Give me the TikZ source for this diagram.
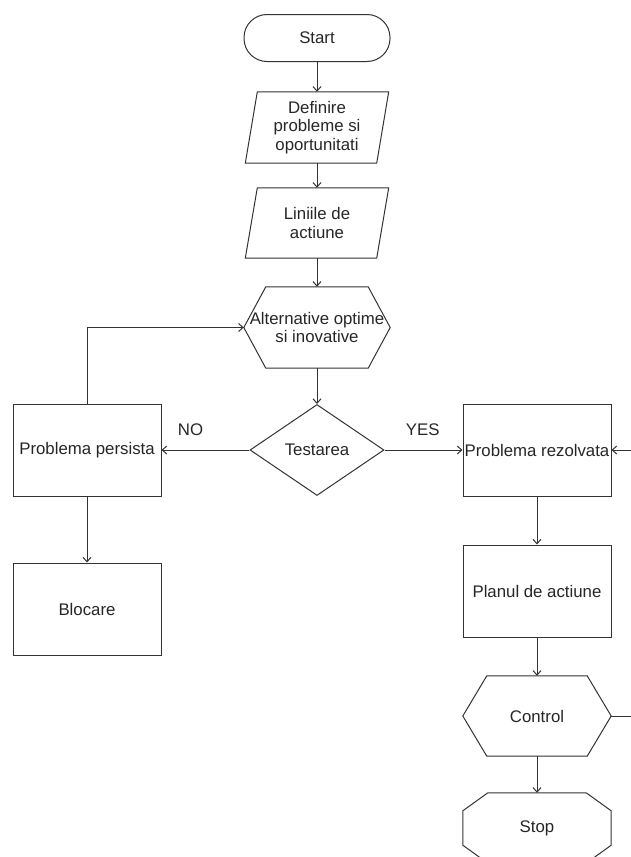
\documentclass[tikz,border=0pt]{standalone}
\usepackage{fontspec}
\setmainfont{Liberation Sans}
\usetikzlibrary{arrows.meta,shapes.geometric}

\begin{document}
\begin{tikzpicture}[x=1pt,y=-1pt,
  line/.style={draw=black!80,line width=1pt},
  flow/.style={line,-{Straight Barb[length=4.5pt,width=8pt]}},
  txt/.style={align=center,text=black!85,inner sep=0pt,
    font=\fontsize{16.8}{18.5}\selectfont},
  block/.style={txt,line,minimum width=148,minimum height=92}]

\useasboundingbox (0,0) rectangle (630,857);

\node[txt,line,rounded corners=23,minimum width=146,minimum height=47] (Start) at (317,38) {Start};
\node[txt,minimum width=143,minimum height=71] (Definire) at (317,127.5) {Definire\\probleme si\\oportunitati};
\node[txt,minimum width=143,minimum height=70] (Liniile) at (317,223) {Liniile de\\actiune};
\node[txt,minimum width=146,minimum height=81] (Alternative) at (317,327.5) {Alternative optime\\si inovative};
\node[txt,line,diamond,aspect=1.47,minimum width=134,minimum height=91] (Testarea) at (317,450) {Testarea};

\node[block] (Persista) at (87,450) {Problema persista};
\node[block] (Blocare) at (87,609) {Blocare};
\node[block] (Rezolvata) at (537,450) {Problema rezolvata};
\node[block] (Planul) at (537,591) {Planul de actiune};
\node[txt,minimum width=148,minimum height=80] (Control) at (537,716) {Control};
\node[txt,minimum width=148,minimum height=70] (Stop) at (537,828) {Stop};

\path (636,716) coordinate (LoopC);

% outlines of the drawn shapes
\draw[line] ([xshift=12]Definire.north west) -- (Definire.north east)
  -- ([xshift=-12]Definire.south east) -- (Definire.south west) -- cycle;
\draw[line] ([xshift=12]Liniile.north west) -- (Liniile.north east)
  -- ([xshift=-12]Liniile.south east) -- (Liniile.south west) -- cycle;
\draw[line] ([xshift=22]Alternative.north west) -- ([xshift=-22]Alternative.north east)
  -- (Alternative.east) -- ([xshift=-22]Alternative.south east)
  -- ([xshift=22]Alternative.south west) -- (Alternative.west) -- cycle;
\draw[line] ([xshift=24]Control.north west) -- ([xshift=-24]Control.north east)
  -- (Control.east) -- ([xshift=-24]Control.south east)
  -- ([xshift=24]Control.south west) -- (Control.west) -- cycle;
\draw[line] ([xshift=25]Stop.north west) -- ([xshift=-25]Stop.north east)
  -- ([yshift=-18]Stop.north east) -- ([yshift=18]Stop.south east)
  -- ([xshift=-25]Stop.south east) -- ([xshift=25]Stop.south west)
  -- ([yshift=18]Stop.south west) -- ([yshift=-18]Stop.north west) -- cycle;

\draw[flow] (Start) -- (Definire);
\draw[flow] (Definire) -- (Liniile);
\draw[flow] (Liniile) -- (Alternative);
\draw[flow] (Alternative) -- (Testarea);
\draw[flow] (Testarea) -- (Persista) node[txt,pos=0.67,above=14pt] {NO};
\draw[flow] (Testarea) -- (Rezolvata) node[txt,pos=0.49,above=14pt] {YES};
\draw[flow] (Persista.north) |- (Alternative.west);
\draw[flow] (Persista) -- (Blocare);
\draw[flow] (Rezolvata) -- (Planul);
\draw[flow] (Planul) -- (Control);
\draw[flow] (Control) -- (Stop);
\draw[flow] (Control.east) -- (LoopC) |- (Rezolvata.east);
\end{tikzpicture}
\end{document}
